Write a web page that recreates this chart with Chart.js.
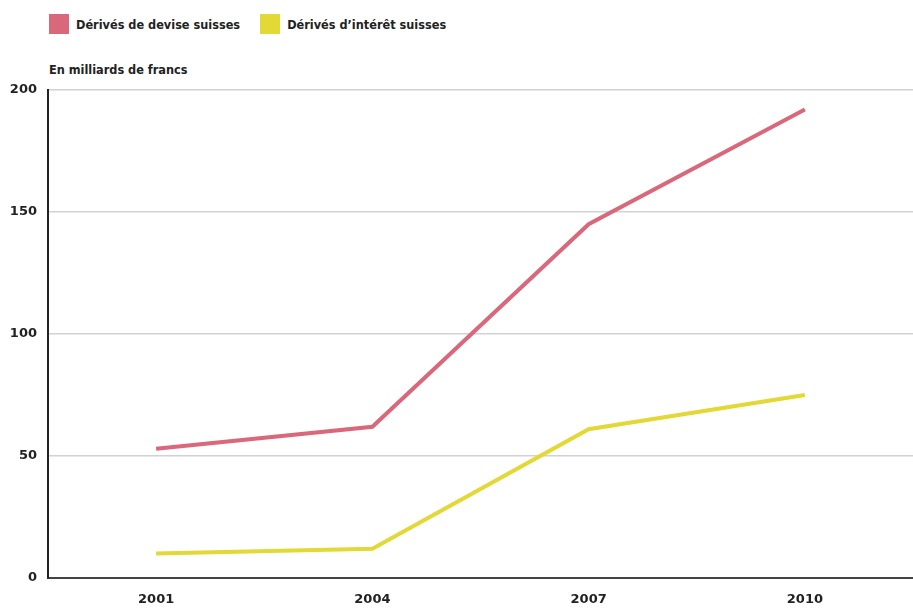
<!DOCTYPE html>
<html>
<head>
<meta charset="utf-8">
<script src="https://cdn.jsdelivr.net/npm/chart.js@4.4.1/dist/chart.umd.min.js"></script>
<style>
  body { margin: 0; background: #fff; }
  #wrap { position: relative; width: 913px; height: 608px; }
  #legend { position: absolute; left: 49px; top: 14px; display: flex; font: bold 12.6px "DejaVu Sans Condensed", sans-serif; color: #222; }
  #legend .item { display: flex; align-items: center; margin-right: 20px; }
  #legend .box { width: 20px; height: 20px; margin-right: 7px; }
  #unit { position: absolute; left: 49px; top: 62px; font: bold 12.6px "DejaVu Sans Condensed", sans-serif; color: #222; }
  #chart { position: absolute; left: 0; top: 0; }
</style>
</head>
<body>
<div id="wrap">
  <div id="legend"></div>
  <div id="unit">En milliards de francs</div>
  <canvas id="chart" width="913" height="608"></canvas>
</div>
<script>
// données (en milliards de francs)
const years = ['2001', '2004', '2007', '2010'];
const devise = [53, 62, 145, 192];
const interet = [10, 12, 61, 75];
const yTicks = [0, 50, 100, 150, 200];

const seriesNames = ['Dérivés de devise suisses', 'Dérivés d’intérêt suisses'];
const seriesColors = ['#d9687a', '#e2d836'];

const ctx = document.getElementById('chart').getContext('2d');

const chart = new Chart(ctx, {
  type: 'line',
  data: {
    labels: years,
    datasets: [
      { label: seriesNames[0], data: devise, borderColor: seriesColors[0], backgroundColor: seriesColors[0] },
      { label: seriesNames[1], data: interet, borderColor: seriesColors[1], backgroundColor: seriesColors[1] }
    ]
  },
  options: {
    responsive: false,
    animation: false,
    layout: { padding: { top: 90, right: 0, left: 0, bottom: 0 } },
    elements: {
      line: { borderWidth: 4, tension: 0 },
      point: { radius: 0 }
    },
    plugins: {
      legend: { display: false },
      tooltip: { enabled: false }
    },
    scales: {
      x: {
        offset: true,
        grid: { display: false, drawTicks: false },
        border: { color: '#444', width: 2 },
        ticks: { padding: 14, color: '#222', font: { family: 'DejaVu Sans', weight: 'bold', size: 13 } },
        afterFit: (s) => { s.height = 30; }
      },
      y: {
        min: 0,
        max: 200,
        afterBuildTicks: (s) => { s.ticks = yTicks.map(v => ({ value: v })); },
        grid: { color: '#d2d2d2', lineWidth: 1.5, drawTicks: false },
        border: { color: '#222', width: 2 },
        ticks: { padding: 11, color: '#222', font: { family: 'DejaVu Sans', weight: 'bold', size: 13 } },
        afterFit: (s) => { s.width = 48; }
      }
    }
  }
});

// légende HTML construite à partir des séries
const legendEl = document.getElementById('legend');
chart.data.datasets.forEach((ds) => {
  const item = document.createElement('div');
  item.className = 'item';
  const box = document.createElement('span');
  box.className = 'box';
  box.style.background = ds.borderColor;
  const txt = document.createElement('span');
  txt.textContent = ds.label;
  item.appendChild(box);
  item.appendChild(txt);
  legendEl.appendChild(item);
});
</script>
</body>
</html>
